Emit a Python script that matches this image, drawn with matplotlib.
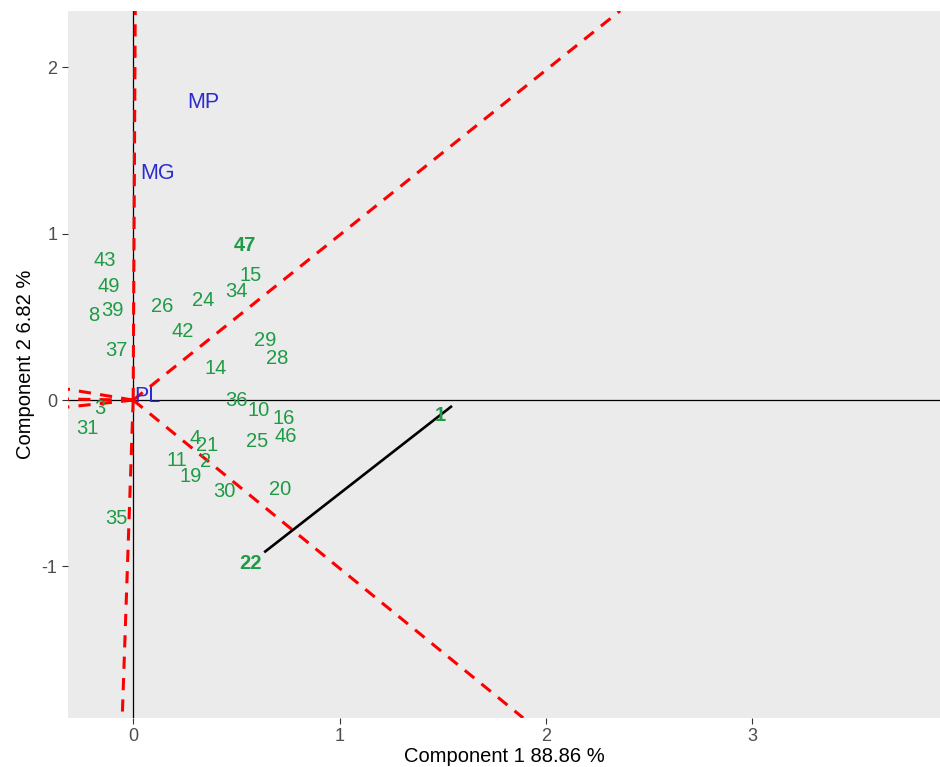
import matplotlib.pyplot as plt

plt.rcParams['font.family'] = ['Liberation Sans', 'DejaVu Sans']
plt.rcParams['axes.unicode_minus'] = False

# genotype scores (component 1, component 2)
gen_labels = ['47', '43', '15', '49', '24', '34', '8', '39', '26', '42', '29', '28',
              '37', '14', '36', '10', '16', '46', '3', '31', '4', '21', '25', '11',
              '2', '19', '30', '20', '35', '22', '1']
gen_x = [0.54, -0.14, 0.57, -0.12, 0.34, 0.50, -0.19, -0.10, 0.14, 0.24, 0.64, 0.70,
         -0.08, 0.40, 0.50, 0.61, 0.73, 0.74, -0.16, -0.22, 0.30, 0.36, 0.60, 0.21,
         0.35, 0.28, 0.44, 0.71, -0.08, 0.57, 1.49]
gen_y = [0.93, 0.84, 0.75, 0.68, 0.60, 0.65, 0.51, 0.54, 0.56, 0.41, 0.36, 0.25,
         0.30, 0.19, 0.00, -0.06, -0.11, -0.22, -0.05, -0.17, -0.23, -0.27, -0.25, -0.36,
         -0.37, -0.46, -0.55, -0.54, -0.71, -0.98, -0.09]
bold_gen = ['47', '22', '1']

# environment scores
env_labels = ['MP', 'MG', 'PL']
env_x = [0.34, 0.12, 0.07]
env_y = [1.79, 1.36, 0.02]

# polygon side that is drawn
poly_x = [1.54, 0.64]
poly_y = [-0.04, -0.91]

# ray end points (sector boundaries, from the origin)
ray_x = [0.01, 2.36, 1.89, -0.053, -0.32, -0.32, -0.32]
ray_y = [2.34, 2.34, -1.91, -1.91, 0.066, 0.006, -0.042]

fig = plt.figure(figsize=(9.4, 7.67), dpi=100)
ax = fig.add_axes([0.0723, 0.064, 0.9277, 0.922])
ax.set_facecolor('#EBEBEB')

ax.axhline(0, color='black', lw=0.9, zorder=1)
ax.axvline(0, color='black', lw=0.9, zorder=1)

for rx, ry in zip(ray_x, ray_y):
    ax.plot([0, rx], [0, ry], color='red', lw=2.2, linestyle=(0, (4.0, 3.0)), zorder=2)

ax.plot(poly_x, poly_y, color='black', lw=1.9, zorder=3)

for lab, x, y in zip(gen_labels, gen_x, gen_y):
    ax.text(x, y, lab, ha='center', va='center', fontsize=14.5, color='#1f9a45',
            fontweight='bold' if lab in bold_gen else 'normal', zorder=4)

for lab, x, y in zip(env_labels, env_x, env_y):
    ax.text(x, y, lab, ha='center', va='center', fontsize=15.5, color='#2b2bd0', zorder=4)

ax.set_xlim(-0.316, 3.91)
ax.set_ylim(-1.91, 2.34)
ax.set_xticks([0, 1, 2, 3])
ax.set_yticks([-1, 0, 1, 2])
for s in ax.spines.values():
    s.set_visible(False)
ax.tick_params(colors='#333333', length=4, width=0.8, labelsize=13, labelcolor='#4D4D4D')
ax.set_xlabel('Component 1 88.86 %', fontsize=14.5, labelpad=1)
ax.set_ylabel('Component 2 6.82 %', fontsize=14.5, labelpad=5)

fig.savefig('out.png', dpi=100)
